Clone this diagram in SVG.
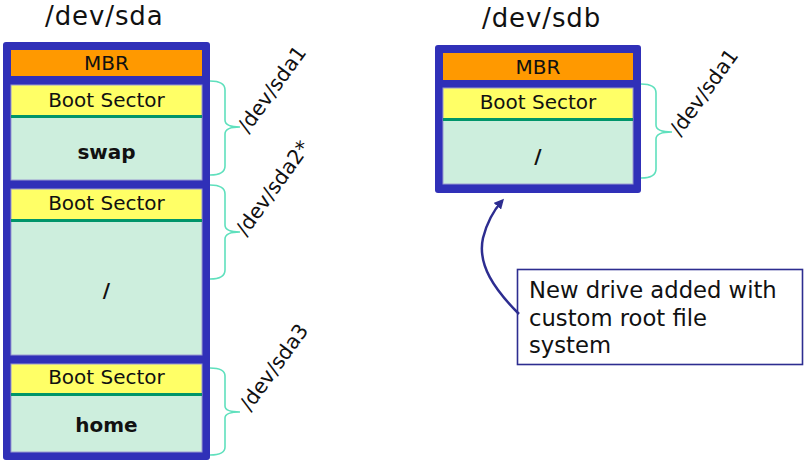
<svg xmlns="http://www.w3.org/2000/svg" width="804" height="462" viewBox="0 0 804 462">
  <defs>
    <style>
      .title { font-family: "DejaVu Sans", Verdana, sans-serif; font-size: 26px; letter-spacing: 0.9px; fill: #111; }
      .disk { fill: #3030b8; }
      .mbr { fill: #ff9900; }
      .boot { fill: #ffff66; stroke: #9a9ad0; stroke-width: 1; }
      .part { fill: #cdeedd; stroke: #9a9ad0; stroke-width: 1; }
      .sep { stroke: #00956a; stroke-width: 3; }
      .lbl { font-family: "DejaVu Sans", Verdana, sans-serif; font-size: 20px; fill: #111; text-anchor: middle; }
      .bold { font-weight: bold; font-size: 20px; }
      .brace { fill: none; stroke: #5fe0bd; stroke-width: 1.6; }
      .dev { font-family: "DejaVu Sans", Verdana, sans-serif; font-size: 20.5px; fill: #111; }
      .callout { fill: #fff; stroke: #2d2d90; stroke-width: 1.6; }
      .note { font-family: "DejaVu Sans", Verdana, sans-serif; font-size: 22.7px; fill: #111; }
      .arrow { fill: none; stroke: #2d2d90; stroke-width: 2.5; }
    </style>
    <marker id="head" markerWidth="10" markerHeight="10" refX="7" refY="5" orient="auto" markerUnits="userSpaceOnUse" viewBox="0 0 10 10">
      <path d="M0,0 L10,5 L0,10 Z" fill="#2d2d90"/>
    </marker>
  </defs>

  <!-- first disk -->
  <g id="sda">
    <text class="title" x="45" y="25">/dev/sda</text>
    <rect class="disk" x="3" y="42" width="207" height="418" rx="3"/>
    <rect class="mbr" x="11" y="50" width="191" height="26"/>
    <text class="lbl" x="106.5" y="70">MBR</text>

    <rect class="boot" x="11" y="85" width="191" height="31"/>
    <text class="lbl" x="106.5" y="107">Boot Sector</text>
    <rect class="part" x="11" y="117" width="191" height="63"/>
    <line class="sep" x1="11" y1="116.5" x2="202" y2="116.5"/>
    <text class="lbl bold" x="106.5" y="159">swap</text>

    <rect class="boot" x="11" y="189" width="191" height="31"/>
    <text class="lbl" x="106.5" y="210">Boot Sector</text>
    <rect class="part" x="11" y="221" width="191" height="134"/>
    <line class="sep" x1="11" y1="220.5" x2="202" y2="220.5"/>
    <text class="lbl bold" x="106.5" y="297">/</text>

    <rect class="boot" x="11" y="364" width="191" height="30"/>
    <text class="lbl" x="106.5" y="384">Boot Sector</text>
    <rect class="part" x="11" y="395" width="191" height="57"/>
    <line class="sep" x1="11" y1="394.5" x2="202" y2="394.5"/>
    <text class="lbl bold" x="106.5" y="432">home</text>
  </g>

  <!-- second disk -->
  <g id="sdb">
    <text class="title" x="482" y="27">/dev/sdb</text>
    <rect class="disk" x="435" y="45" width="206" height="148" rx="3"/>
    <rect class="mbr" x="443" y="53" width="190" height="27"/>
    <text class="lbl" x="538" y="74">MBR</text>
    <rect class="boot" x="443" y="88" width="190" height="31"/>
    <text class="lbl" x="538" y="109">Boot Sector</text>
    <rect class="part" x="443" y="120" width="190" height="64"/>
    <line class="sep" x1="443" y1="119.5" x2="633" y2="119.5"/>
    <text class="lbl bold" x="538" y="163">/</text>
  </g>

  <!-- partition braces and labels -->
  <g id="sda1">
    <path class="brace" d="M210,81 Q225,81 225,90 L225,120 Q225,127 240,127 Q225,127 225,134 L225,166 Q225,175 210,175"/>
    <text class="dev" transform="translate(248,134) rotate(-54)">/dev/sda1</text>
  </g>
  <g id="sda2">
    <path class="brace" d="M210,185 Q225,185 225,194 L225,225 Q225,232 240,232 Q225,232 225,239 L225,270 Q225,279 210,279"/>
    <text class="dev" transform="translate(246,237) rotate(-54)">/dev/sda2*</text>
  </g>
  <g id="sda3">
    <path class="brace" d="M210,368 Q225,368 225,376 L225,406 Q225,412 240,412 Q225,412 225,418 L225,447 Q225,455 210,455"/>
    <text class="dev" transform="translate(250,412) rotate(-54)">/dev/sda3</text>
  </g>
  <g id="sdb1">
    <path class="brace" d="M641,84 Q656,84 656,93 L656,125 Q656,132 672,132 Q656,132 656,139 L656,169 Q656,178 641,178"/>
    <text class="dev" transform="translate(680,137) rotate(-54)">/dev/sda1</text>
  </g>

  <!-- note -->
  <g id="note">
    <rect class="callout" x="517.5" y="269.5" width="285" height="95"/>
    <text class="note" x="529" y="298">New drive added with</text>
    <text class="note" x="529" y="326">custom root file</text>
    <text class="note" x="529" y="353">system</text>
  </g>

  <g id="connectors">
    <path class="arrow" marker-end="url(#head)" d="M519,314 C495,290 477,265 483,238 C487,222 494,210 502,201"/>
  </g>
</svg>
